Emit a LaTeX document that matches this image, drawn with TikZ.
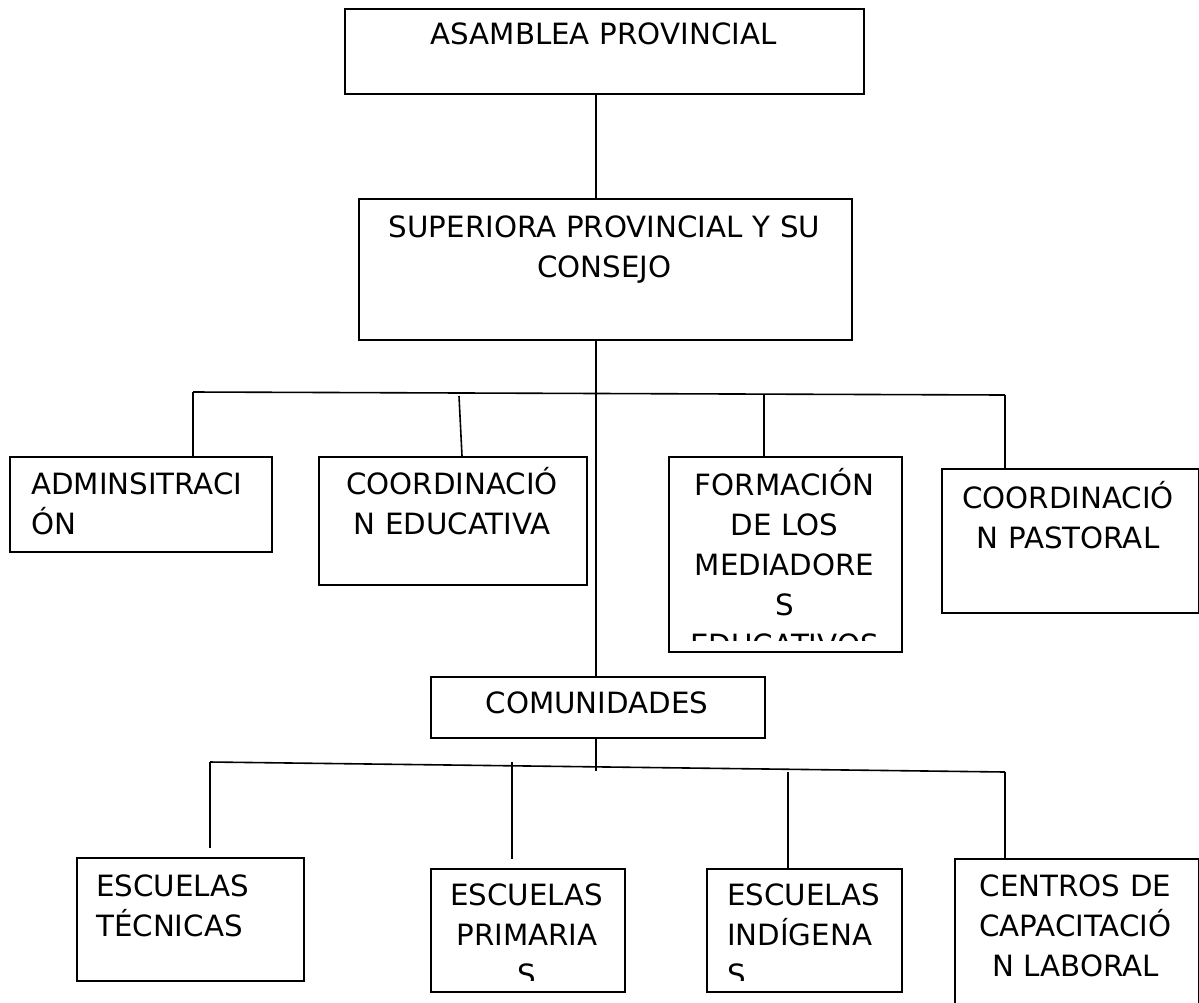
\documentclass[tikz,border=0pt]{standalone}
\usepackage{fontspec}
\setmainfont{DejaVu Sans}
\begin{document}
\begin{tikzpicture}[x=1pt,y=-1pt,
  box/.style={draw=black,line width=1.9pt,rectangle,inner sep=0pt,anchor=north west},
  ctext/.style={inner sep=0pt,anchor=base,align=center,text width=#1,font=\fontsize{29.3}{40}\selectfont},
  ltext/.style={inner sep=0pt,anchor=base west,align=left,text width=#1,font=\fontsize{29.3}{40}\selectfont},
  conn/.style={line width=1.6pt,black}]
\clip (0,0) rectangle (1199,1002);
\fill[white] (0,0) rectangle (1199,1002);

% boxes
\node[box,minimum width=519pt,minimum height=85pt] (asamblea) at (344,8) {};
\node[box,minimum width=493pt,minimum height=141pt] (superiora) at (358,198) {};
\node[box,minimum width=262pt,minimum height=95pt] (admin) at (9,456) {};
\node[box,minimum width=268pt,minimum height=128pt] (coordedu) at (318,456) {};
\node[box,minimum width=233pt,minimum height=195pt] (formacion) at (668,456) {};
\node[box,minimum width=257pt,minimum height=144pt] (pastoral) at (941,468) {};
\node[box,minimum width=334pt,minimum height=61pt] (comunidades) at (430,676) {};
\node[box,minimum width=227pt,minimum height=123pt] (tecnicas) at (76,857) {};
\node[box,minimum width=194pt,minimum height=123pt] (primarias) at (430,868) {};
\node[box,minimum width=195pt,minimum height=123pt] (indigenas) at (706,868) {};
\node[box,minimum width=244pt,minimum height=160pt] (centros) at (954,858) {};

% texts
\node[ctext=500pt] (t-asamblea) at (603.5,44) {ASAMBLEA PROVINCIAL};
\node[ctext=480pt] (t-superiora) at (604.5,237) {SUPERIORA PROVINCIAL Y SU\\CONSEJO};
\node[ltext=250pt] (t-admin) at (31,494) {ADMINSITRACI\\ÓN};
\node[ctext=260pt] (t-coordedu) at (452,494) {COORDINACIÓ\\N EDUCATIVA};
\begin{scope}
  \clip (668,456) rectangle (901,640);
  \node[ctext=230pt] (t-formacion) at (784.5,495) {FORMACIÓN\\DE LOS\\MEDIADORE\\S\\EDUCATIVOS};
\end{scope}
\node[ctext=250pt] (t-pastoral) at (1068,508) {COORDINACIÓ\\N PASTORAL};
\node[ctext=320pt] (t-comunidades) at (597,713) {COMUNIDADES};
\node[ltext=220pt] (t-tecnicas) at (96,896) {ESCUELAS\\TÉCNICAS};
\begin{scope}
  \clip (430,868) rectangle (624,980);
  \node[ctext=190pt] (t-primarias) at (527,905) {ESCUELAS\\PRIMARIA\\S};
\end{scope}
\begin{scope}
  \clip (706,868) rectangle (901,980);
  \node[ltext=190pt] (t-indigenas) at (727,905) {ESCUELAS\\INDÍGENA\\S};
\end{scope}
\node[ctext=240pt] (t-centros) at (1075.5,896) {CENTROS DE\\CAPACITACIÓ\\N LABORAL};

% connector coordinates
\coordinate (stem) at (596,0);
\coordinate (busA-l) at (193,392);
\coordinate (busA-r) at (1005,395);
\coordinate (dropA2) at (459,396);
\coordinate (dropA3) at (764,395);
\coordinate (busB-l) at (210,762);
\coordinate (busB-r) at (1005,772);
\coordinate (stemB) at (596,771);
\coordinate (dropB1) at (210,848);
\coordinate (dropB2t) at (512,762);
\coordinate (dropB2b) at (512,859);
\coordinate (dropB3t) at (788,772);

% connectors
\draw[conn] (stem |- asamblea.south) -- (stem |- superiora.north);
\draw[conn] (stem |- superiora.south) -- (stem |- comunidades.north);
\draw[conn] (busA-l) -- (busA-r);
\draw[conn] (busA-l) -- (busA-l |- admin.north);
\draw[conn] (dropA2) -- (462,456);
\draw[conn] (dropA3) -- (dropA3 |- formacion.north);
\draw[conn] (busA-r) -- (busA-r |- pastoral.north);
\draw[conn] (stem |- comunidades.south) -- (stemB);
\draw[conn] (busB-l) -- (busB-r);
\draw[conn] (busB-l) -- (dropB1);
\draw[conn] (dropB2t) -- (dropB2b);
\draw[conn] (dropB3t) -- (dropB3t |- indigenas.north);
\draw[conn] (busB-r) -- (busB-r |- centros.north);
\end{tikzpicture}
\end{document}
